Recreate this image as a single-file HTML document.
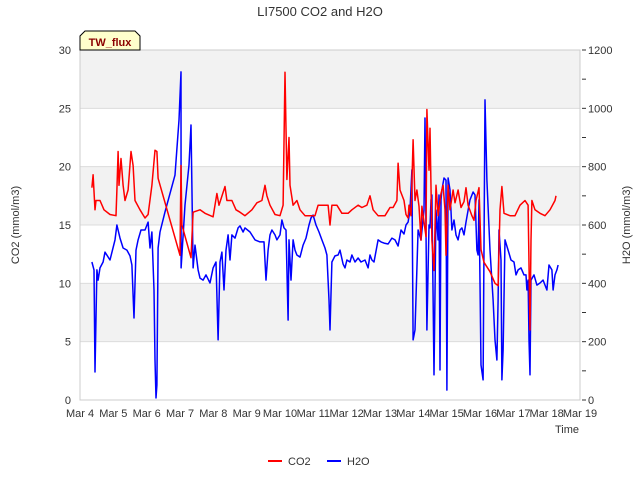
<!DOCTYPE html>
<html><head><meta charset="utf-8"><style>
body{margin:0;background:#fff;}
svg{display:block;font-family:"Liberation Sans",sans-serif;}
</style></head><body>
<svg id="chart" width="640" height="480" viewBox="0 0 640 480">
<text x="320" y="16" text-anchor="middle" font-size="13" fill="#333">LI7500 CO2 and H2O</text>
<g id="bands"></g>
<g id="grid"></g>
<rect x="80" y="50" width="500" height="350" fill="none" stroke="#ccc"/>
<g id="xaxis"></g>
<g id="yleft"></g>
<g id="yright"></g>
<text x="579" y="433" text-anchor="end" font-size="11" fill="#333">Time</text>
<text transform="translate(19,225) rotate(-90)" text-anchor="middle" font-size="11" fill="#333">CO2 (mmol/m3)</text>
<text transform="translate(630,225) rotate(-90)" text-anchor="middle" font-size="11" fill="#333">H2O (mmol/m3)</text>
<g id="series"></g>
<g>
<path d="M80,50 L80,36 L85,31 L135,31 L140,36 L140,50 Z" fill="#ffffcc" stroke="#000" stroke-width="1"/>
<text x="110" y="46" text-anchor="middle" font-size="11" font-weight="bold" fill="#8b0000">TW_flux</text>
</g>
<g>
<g><line x1="268" y1="461" x2="282" y2="461" stroke="#f00" stroke-width="2"/><text x="288" y="465" font-size="11" fill="#333">CO2</text></g>
<g><line x1="327" y1="461" x2="341" y2="461" stroke="#00f" stroke-width="2"/><text x="347" y="465" font-size="11" fill="#333">H2O</text></g>
</g>
</svg>
<script>
const xTickLabels=["Mar 4","Mar 5","Mar 6","Mar 7","Mar 8","Mar 9","Mar 10","Mar 11","Mar 12","Mar 13","Mar 14","Mar 15","Mar 16","Mar 17","Mar 18","Mar 19"];
const leftTicks=[0,5,10,15,20,25,30];
const rightTicks=[0,200,400,600,800,1000,1200];
const co2Hours=[8.6,9.4,10.8,11.5,14.4,17.3,21.6,25.9,26.6,27.4,28.1,29.5,31.0,32.4,34.6,36.7,38.2,39.6,43.2,46.8,49.0,51.8,54.0,55.4,56.2,72.0,72.7,73.4,79.9,81.4,86.4,90.0,95.8,98.6,100.1,104.4,105.8,109.4,112.3,115.2,118.8,123.8,127.4,131.0,133.2,134.6,136.8,140.4,144.0,146.2,147.6,149.0,150.5,151.2,153.4,156.2,158.4,162.0,169.2,171.4,174.2,178.6,180.0,181.4,185.0,188.6,193.0,195.8,200.2,203.0,206.6,208.8,211.0,214.6,219.6,223.2,225.4,228.2,229.0,230.4,233.3,234.7,236.2,236.9,238.3,239.8,241.2,242.6,244.1,245.5,246.2,249.1,249.8,251.3,252.0,253.4,254.9,256.3,257.8,259.9,261.4,262.8,263.5,265.0,266.4,268.6,270.0,272.2,274.3,276.5,277.9,279.4,282.2,283.7,285.1,287.3,288.7,290.9,295.2,298.8,301.0,302.4,303.8,305.3,309.6,313.2,316.8,320.4,322.6,324.0,324.7,325.4,327.6,331.2,334.8,338.4,342.0,342.7];
const co2Values=[18.2,19.3,16.3,17.1,17.1,16.3,15.9,15.8,18.0,21.3,18.4,20.7,18.4,17.1,18.0,21.3,20.1,17.1,16.3,15.6,15.9,18.4,21.4,21.3,19.0,12.4,20.1,15.0,12.2,16.1,16.3,16.0,15.7,17.7,16.7,18.3,17.1,17.1,16.3,16.1,15.8,16.3,16.9,17.1,18.4,17.5,16.7,15.9,15.8,16.7,28.1,18.9,22.5,18.4,16.7,17.1,16.3,15.8,15.8,16.7,16.7,16.7,15.0,16.7,16.7,16.0,16.0,16.3,16.7,16.5,16.7,17.5,16.3,15.8,15.8,16.5,16.5,17.1,20.3,18.0,17.1,15.9,15.6,16.7,15.8,22.3,17.1,18.0,16.6,13.7,16.6,14.0,24.9,19.7,23.3,13.7,11.1,18.4,15.8,17.7,18.4,16.3,12.4,18.4,16.3,18.0,16.9,18.0,16.5,17.0,18.2,16.7,15.8,15.4,17.1,18.2,12.9,11.8,11.0,10.0,9.8,16.3,18.3,16.0,15.8,15.8,16.7,17.1,16.7,6.0,13.7,17.1,16.3,16.0,15.8,16.3,17.1,17.5];
const h2oHours=[8.6,10.1,10.8,12.2,13.0,14.4,16.6,18.0,21.6,25.2,26.6,28.8,31.0,33.8,36.0,37.4,38.9,40.3,41.8,43.9,46.8,49.0,50.4,51.8,53.3,54.0,54.7,55.4,56.2,57.6,61.2,68.4,71.3,72.7,72.8,75.6,78.5,79.9,81.4,82.8,85.0,86.4,88.6,90.7,93.6,95.8,97.9,99.4,100.8,102.2,103.7,105.1,106.6,108.0,109.4,111.6,113.8,115.2,117.4,118.8,122.4,126.0,129.6,132.5,133.9,135.4,136.8,138.2,140.4,141.8,144.0,145.4,146.9,148.3,149.8,150.5,151.9,153.4,154.8,156.2,158.4,160.6,162.7,164.9,166.3,167.8,169.9,172.1,174.2,176.4,177.8,179.3,180.0,181.4,183.6,185.8,187.2,189.4,190.8,192.2,194.4,195.8,198.0,200.2,202.3,205.2,207.4,208.8,210.2,211.7,214.6,216.7,218.9,221.8,224.6,226.8,229.0,231.1,233.3,234.7,236.2,237.6,239.0,239.8,241.2,243.4,245.5,247.7,248.4,249.8,251.3,252.0,252.7,253.4,254.9,256.3,257.8,258.5,259.2,259.9,260.6,262.1,263.5,264.2,265.0,266.4,267.8,269.3,270.7,272.2,273.6,275.0,276.5,277.9,279.4,280.8,283.0,284.4,285.8,286.6,287.3,288.7,290.2,291.6,293.0,295.2,297.4,298.8,300.2,301.0,301.7,303.1,303.8,304.6,306.0,308.2,310.3,312.5,313.9,315.4,317.5,319.7,321.1,321.8,322.6,323.3,324.0,324.7,326.9,329.0,331.2,333.4,334.8,336.2,337.7,339.8,340.6,342.0,343.4,344.2];
const h2oValues=[473,446,96,446,411,453,473,507,480,549,600,555,521,514,494,463,281,514,549,583,583,610,521,576,377,137,7,51,521,576,645,771,960,1125,453,669,806,943,453,531,446,418,411,429,401,453,473,206,473,507,377,514,566,480,566,555,590,597,576,590,576,549,542,542,411,514,566,583,566,549,566,617,590,583,274,549,411,549,514,497,490,531,555,600,624,634,600,576,549,521,497,343,240,473,494,497,514,466,453,480,473,497,473,487,473,480,453,497,480,473,549,542,538,535,555,549,528,583,569,600,610,651,789,206,240,583,549,651,967,240,600,590,686,703,86,651,549,703,103,686,720,761,754,34,761,720,583,617,566,549,583,590,566,610,651,686,713,703,514,497,686,120,69,1029,754,514,343,206,137,343,583,480,69,171,549,514,480,473,429,446,453,429,429,377,411,206,86,411,429,394,401,411,394,377,463,446,377,429,446,463];

const NS="http://www.w3.org/2000/svg";
const X0=80,X1=580,Y0=400,Y1=50;
function xScale(h){return X0+(h/24)*(X1-X0)/15;}
function yLeft(v){return Y0-v*(Y0-Y1)/30;}
function yRight(v){return Y0-v*(Y0-Y1)/1200;}
function mk(tag,attrs,parent){const e=document.createElementNS(NS,tag);for(const k in attrs)e.setAttribute(k,attrs[k]);parent.appendChild(e);return e;}
const bands=document.getElementById('bands'),grid=document.getElementById('grid');
for(let i=0;i<leftTicks.length-1;i++){
  if(i%2===1){const r=mk('rect',{x:X0,y:yLeft(leftTicks[i+1]),width:X1-X0,height:yLeft(leftTicks[i])-yLeft(leftTicks[i+1]),fill:'#f2f2f2'},bands);
  
  }
}
const yl=document.getElementById('yleft');
leftTicks.forEach(v=>{
  const y=yLeft(v);
  const g=mk('line',{x1:X0,x2:X1,y1:y,y2:y,stroke:'#dcdcdc'},grid);
  
  
  const t=mk('text',{x:X0-9,y:y+4,'text-anchor':'end','font-size':11,fill:'#333'},yl);
  t.textContent=v;
  
  
});
const yr=document.getElementById('yright');
for(let v=0;v<=1200;v+=100){
  const y=yRight(v);
  const tk=mk('line',{x1:X1+2,x2:X1+6,y1:y,y2:y,stroke:'#333'},yr);
  
  
}
rightTicks.forEach(v=>{
  const t=mk('text',{x:X1+8,y:yRight(v)+4,'font-size':11,fill:'#333'},yr);
  t.textContent=v;
  
  
});
const xa=document.getElementById('xaxis');
xTickLabels.forEach((s,i)=>{
  const x=xScale(i*24);
  const t=mk('text',{x:x,y:Y0+17,'text-anchor':'middle','font-size':11,fill:'#333'},xa);
  t.textContent=s;
  
  
});
const ser=document.getElementById('series');
function line(hours,vals,ys,color,name){
  const d=hours.map((h,i)=>(i?'L':'M')+xScale(h).toFixed(1)+','+ys(vals[i]).toFixed(1)).join(' ');
  const p=mk('path',{d:d,fill:'none',stroke:color,'stroke-width':1.5,'stroke-linejoin':'round'},ser);
  
  
}
line(h2oHours,h2oValues,yRight,'#0000ff','h2o-line');
line(co2Hours,co2Values,yLeft,'#ff0000','co2-line');
</script>
</body></html>
